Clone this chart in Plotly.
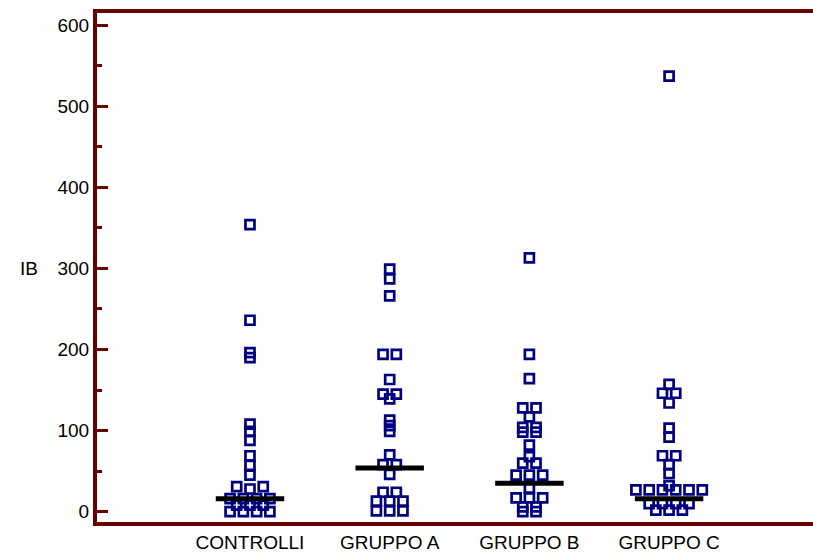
import plotly.graph_objects as go

# Category names and per-group IB values
groups = ["CONTROLLI", "GRUPPO A", "GRUPPO B", "GRUPPO C"]
controlli = [0, 0, 0, 0, 8, 8, 8, 16, 16, 16, 16, 28, 31, 31, 45, 57, 69, 88, 99, 108,
             190, 196, 236, 354]
gruppo_a = [1, 1, 1, 13, 13, 13, 24, 24, 46, 58, 58, 70, 99, 106, 113, 139, 145, 145,
            163, 194, 194, 266, 287, 299]
gruppo_b = [0, 0, 6, 6, 17, 17, 17, 29, 45, 45, 45, 60, 60, 68, 82, 98, 98, 104, 104,
            117, 128, 128, 164, 194, 313]
gruppo_c = [2, 2, 2, 10, 10, 10, 10, 27, 27, 27, 27, 27, 27, 32, 47, 58, 69, 69, 92, 103,
            134, 146, 146, 157, 537]
medians = [16, 54, 35, 16]

series = [controlli, gruppo_a, gruppo_b, gruppo_c]
positions = [1, 2, 3, 4]

AXIS_RED = "#680000"
NAVY = "#000080"
FONT = "Liberation Sans, Arial, sans-serif"


def dot_layout(values, tol=4.0, step=0.095):
    """Dot-plot layout: values closer than `tol` share a row and are spread
    symmetrically left/right, smallest value in the centre."""
    rows = []
    for v in sorted(values):
        if rows and v - rows[-1][0] <= tol:
            rows[-1].append(v)
        else:
            rows.append([v])
    xs, ys = [], []
    for row in rows:
        n = len(row)
        if n % 2:
            order = [0] + [s * k for k in range(1, n // 2 + 1) for s in (-1, 1)]
        else:
            order = [s * (k - 0.5) for k in range(1, n // 2 + 1) for s in (-1, 1)]
        for v, o in zip(row, order):
            xs.append(o * step)
            ys.append(v)
    return xs, ys


fig = go.Figure()

for pos, vals in zip(positions, series):
    dx, ys = dot_layout(vals)
    fig.add_trace(go.Scatter(
        x=[pos + d for d in dx], y=ys, mode="markers",
        marker=dict(symbol="square-open", size=9, color=NAVY,
                    line=dict(width=2.7, color=NAVY)),
        showlegend=False, hoverinfo="y",
    ))

for pos, m in zip(positions, medians):
    fig.add_trace(go.Scatter(
        x=[pos - 0.245, pos + 0.245], y=[m, m], mode="lines",
        line=dict(color="black", width=5),
        showlegend=False, hoverinfo="y",
    ))

fig.add_annotation(
    text="IB", x=0, xref="paper", xanchor="right", xshift=-57,
    y=300, yref="y", yanchor="middle", showarrow=False,
    font=dict(family=FONT, size=19, color="black"),
)

fig.update_layout(
    width=813, height=557,
    margin=dict(l=97, r=0, t=13, b=35),
    paper_bgcolor="white", plot_bgcolor="white",
    font=dict(family=FONT, size=19, color="black"),
    xaxis=dict(
        range=[-0.095, 5.03], tickvals=positions, ticktext=groups,
        showgrid=False, zeroline=False, ticks="",
        showline=True, linecolor=AXIS_RED, linewidth=4, mirror=True,
        tickfont=dict(family=FONT, size=19, color="black"),
    ),
    yaxis=dict(
        range=[-12.7, 614.8], tickvals=[0, 100, 200, 300, 400, 500, 600],
        showgrid=False, zeroline=False,
        ticks="inside", ticklen=11, tickwidth=3, tickcolor=AXIS_RED,
        minor=dict(tickvals=[50, 150, 250, 350, 450, 550], ticks="inside",
                   ticklen=5, tickwidth=3, tickcolor=AXIS_RED),
        showline=True, linecolor=AXIS_RED, linewidth=4,
        tickfont=dict(family=FONT, size=19, color="black"),
    ),
)

fig.write_html("out.html")
